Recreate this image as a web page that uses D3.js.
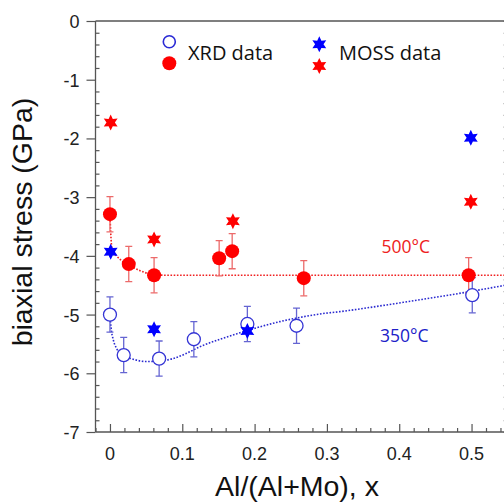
<!DOCTYPE html>
<html><head><meta charset="utf-8">
<script src="https://cdn.jsdelivr.net/npm/d3@7"></script>
<style>body{margin:0;background:#fff}svg{display:block}</style>
</head><body>
<script>
// XRD data, 500°C (filled red circles)
const xrd500X = [0.0, 0.026, 0.061, 0.151, 0.169, 0.268, 0.496];
const xrd500Y = [-3.29, -4.14, -4.33, -4.04, -3.92, -4.38, -4.33];
const xrd500Err = [0.3, 0.3, 0.3, 0.3, 0.3, 0.3, 0.3];
// XRD data, 350°C (open blue circles)
const xrd350X = [0.0, 0.019, 0.068, 0.116, 0.190, 0.258, 0.501];
const xrd350Y = [-5.0, -5.69, -5.75, -5.42, -5.16, -5.19, -4.67];
const xrd350Err = [0.3, 0.3, 0.3, 0.3, 0.3, 0.3, 0.3];
// MOSS data
const moss350X = [0.001, 0.061, 0.190, 0.499];
const moss350Y = [-3.93, -5.25, -5.28, -1.99];
const moss500X = [0.001, 0.061, 0.170, 0.499];
const moss500Y = [-1.73, -3.72, -3.41, -3.08];
// fitted (dotted) curves
const fit500X = [0.0, 0.001, 0.003, 0.009, 0.018, 0.028, 0.041, 0.061, 0.078, 0.2, 0.4, 0.56];
const fit500Y = [-3.29, -3.59, -3.90, -4.00, -4.10, -4.17, -4.25, -4.32, -4.33, -4.33, -4.33, -4.33];
const fit350X = [0.0, 0.0014, 0.0046, 0.0093, 0.018, 0.032, 0.051, 0.069, 0.087, 0.106, 0.124, 0.152, 0.180, 0.207, 0.235, 0.262, 0.290, 0.318, 0.396, 0.497, 0.56];
const fit350Y = [-5.0, -5.21, -5.43, -5.58, -5.69, -5.76, -5.80, -5.79, -5.75, -5.66, -5.55, -5.42, -5.31, -5.21, -5.12, -5.05, -4.99, -4.95, -4.81, -4.61, -4.47];
// ticks
const xTickVals = [0, 0.1, 0.2, 0.3, 0.4, 0.5];
const xTickLabels = ["0", "0.1", "0.2", "0.3", "0.4", "0.5"];
const yTickVals = [0, -1, -2, -3, -4, -5, -6, -7];
const yTickLabels = ["0", "-1", "-2", "-3", "-4", "-5", "-6", "-7"];

const W = 504, H = 502;
const svg = d3.select("body").append("svg").attr("width", W).attr("height", H);
const x = d3.scaleLinear().domain([-0.02, 0.55]).range([95.5, 507.7]);
const y = d3.scaleLinear().domain([0, -7]).range([21, 432]);

const axisCol = "#555";
const RED = "#ff0000", BLUE = "#0000ff";

// spines
svg.append("line").attr("x1", x(-0.02)).attr("x2", x(-0.02)).attr("y1", y(0)).attr("y2", y(-7)).attr("stroke", axisCol).attr("stroke-width", 1.3);
svg.append("line").attr("x1", x(-0.02)).attr("x2", x(0.55)).attr("y1", y(-7)).attr("y2", y(-7)).attr("stroke", axisCol).attr("stroke-width", 1.3);
svg.append("line").attr("x1", x(-0.02)).attr("x2", x(0.55)).attr("y1", y(0)).attr("y2", y(0)).attr("stroke", axisCol).attr("stroke-width", 1.3);
svg.append("line").attr("x1", x(0.55)).attr("x2", x(0.55)).attr("y1", y(0)).attr("y2", y(-7)).attr("stroke", axisCol).attr("stroke-width", 1.3);

// y ticks: major outward, minor inward
const yAxisL = d3.axisLeft(y).tickValues(yTickVals).tickSize(9).tickFormat((d, i) => yTickLabels[i]).tickPadding(7);
const gy = svg.append("g").attr("transform", `translate(${x(-0.02)},0)`).call(yAxisL);
gy.select(".domain").remove();
gy.selectAll(".tick line").attr("stroke", axisCol).attr("stroke-width", 1.2);
gy.selectAll(".tick text").attr("font-family", "Liberation Sans, Arial, sans-serif").attr("font-size", 18).attr("fill", "#222").attr("dy", "0.36em");
const yMinor = d3.range(0, 36).map(i => -i * 0.2).filter(v => Math.abs(v - Math.round(v)) > 1e-6);
const gym = svg.append("g").attr("transform", `translate(${x(-0.02)},0)`).call(d3.axisRight(y).tickValues(yMinor).tickSize(4).tickFormat(""));
gym.select(".domain").remove();
gym.selectAll(".tick line").attr("stroke", axisCol).attr("stroke-width", 1.2);
const gyr = svg.append("g").attr("transform", `translate(${x(0.55)},0)`).call(d3.axisLeft(y).tickValues(yMinor.concat(yTickVals)).tickSize(4).tickFormat(""));
gyr.select(".domain").remove();
gyr.selectAll(".tick line").attr("stroke", axisCol).attr("stroke-width", 1.2);

// x ticks: inward
const gx = svg.append("g").attr("transform", `translate(0,${y(-7)})`).call(d3.axisTop(x).tickValues(xTickVals).tickSize(8).tickFormat(""));
gx.select(".domain").remove();
gx.selectAll(".tick line").attr("stroke", axisCol).attr("stroke-width", 1.2);
const xMinor = d3.range(-1, 28).map(i => i * 0.02).filter(v => Math.abs(v * 10 - Math.round(v * 10)) > 1e-6);
const gxm = svg.append("g").attr("transform", `translate(0,${y(-7)})`).call(d3.axisTop(x).tickValues(xMinor).tickSize(4).tickFormat(""));
gxm.select(".domain").remove();
gxm.selectAll(".tick line").attr("stroke", axisCol).attr("stroke-width", 1.2);
svg.append("g").selectAll("text").data(xTickVals).join("text")
  .attr("x", d => x(d)).attr("y", 460).attr("text-anchor", "middle")
  .attr("font-family", "Liberation Sans, Arial, sans-serif").attr("font-size", 18).attr("fill", "#222")
  .text((d, i) => xTickLabels[i]);

// axis titles
svg.append("text").attr("x", 297).attr("y", 496).attr("text-anchor", "middle")
  .attr("font-family", "Liberation Sans, Arial, sans-serif").attr("font-size", 28.5).attr("fill", "#111")
  .text("Al/(Al+Mo), x");
svg.append("text").attr("transform", "translate(32,222) rotate(-90)").attr("text-anchor", "middle")
  .attr("font-family", "Liberation Sans, Arial, sans-serif").attr("font-size", 28.5).attr("fill", "#111")
  .text("biaxial stress (GPa)");

// fit curves
const line = d3.line().x(d => x(d[0])).y(d => y(d[1])).curve(d3.curveMonotoneX);
const clip = svg.append("clipPath").attr("id", "pc").append("rect").attr("x", x(-0.02)).attr("y", y(0)).attr("width", x(0.55) - x(-0.02)).attr("height", y(-7) - y(0));
const plot = svg.append("g").attr("clip-path", "url(#pc)");
plot.append("path").datum(fit500X.map((v, i) => [v, fit500Y[i]])).attr("d", line)
  .attr("fill", "none").attr("stroke", "#f02020").attr("stroke-width", 1.6).attr("stroke-dasharray", "1.6,1.6");
plot.append("path").datum(fit350X.map((v, i) => [v, fit350Y[i]])).attr("d", line)
  .attr("fill", "none").attr("stroke", "#2a2ad0").attr("stroke-width", 1.6).attr("stroke-dasharray", "1.6,1.6");

// error bars
function errBars(xs, ys, es, col) {
  const g = plot.append("g").attr("stroke", col).attr("stroke-width", 1.3);
  xs.forEach((xv, i) => {
    const cx = x(xv), t = y(ys[i] + es[i]), b = y(ys[i] - es[i]);
    g.append("line").attr("x1", cx).attr("x2", cx).attr("y1", t).attr("y2", b);
    g.append("line").attr("x1", cx - 3.5).attr("x2", cx + 3.5).attr("y1", t).attr("y2", t);
    g.append("line").attr("x1", cx - 3.5).attr("x2", cx + 3.5).attr("y1", b).attr("y2", b);
  });
}
errBars(xrd350X, xrd350Y, xrd350Err, "#6565d2");
errBars(xrd500X, xrd500Y, xrd500Err, "#ec6a6a");

// circles
plot.append("g").selectAll("circle").data(xrd350X).join("circle")
  .attr("cx", d => x(d)).attr("cy", (d, i) => y(xrd350Y[i])).attr("r", 6.5)
  .attr("fill", "#fff").attr("stroke", "#3535d5").attr("stroke-width", 1.3);
plot.append("g").selectAll("circle").data(xrd500X).join("circle")
  .attr("cx", d => x(d)).attr("cy", (d, i) => y(xrd500Y[i])).attr("r", 7)
  .attr("fill", RED);

// six-pointed star
function star6(R, r) {
  const pts = [];
  for (let k = 0; k < 12; k++) {
    const a = -Math.PI / 2 + k * Math.PI / 6;
    const rr = k % 2 === 0 ? R : r;
    pts.push([rr * Math.cos(a), rr * Math.sin(a)]);
  }
  return "M" + pts.map(p => p[0].toFixed(2) + "," + p[1].toFixed(2)).join("L") + "Z";
}
const starPath = star6(8, 4.2);
plot.append("g").selectAll("path").data(moss500X).join("path")
  .attr("d", starPath).attr("fill", RED)
  .attr("transform", (d, i) => `translate(${x(d)},${y(moss500Y[i])})`);
plot.append("g").selectAll("path").data(moss350X).join("path")
  .attr("d", starPath).attr("fill", BLUE)
  .attr("transform", (d, i) => `translate(${x(d)},${y(moss350Y[i])})`);

// legend
const lg = svg.append("g");
lg.append("circle").attr("cx", 169.3).attr("cy", 41.7).attr("r", 6).attr("fill", "#fff").attr("stroke", "#2a2ad5").attr("stroke-width", 1.6);
lg.append("circle").attr("cx", 169.3).attr("cy", 63.3).attr("r", 7).attr("fill", RED);
lg.append("text").attr("x", 188).attr("y", 60).attr("font-family", "Open Sans, sans-serif").attr("font-size", 20).attr("fill", "#111").text("XRD data");
lg.append("path").attr("d", starPath).attr("fill", BLUE).attr("transform", "translate(319.3,44.3)");
lg.append("path").attr("d", starPath).attr("fill", RED).attr("transform", "translate(319.3,66)");
lg.append("text").attr("x", 339).attr("y", 60).attr("font-family", "Open Sans, sans-serif").attr("font-size", 20).attr("fill", "#111").text("MOSS data");

// curve labels
svg.append("text").attr("x", 381.5).attr("y", 253).attr("font-family", "Open Sans, sans-serif").attr("font-size", 17.5).attr("fill", "#ee2020").text("500°C");
svg.append("text").attr("x", 380).attr("y", 341.5).attr("font-family", "Open Sans, sans-serif").attr("font-size", 17.5).attr("fill", "#2020c8").text("350°C");
</script>
</body></html>
